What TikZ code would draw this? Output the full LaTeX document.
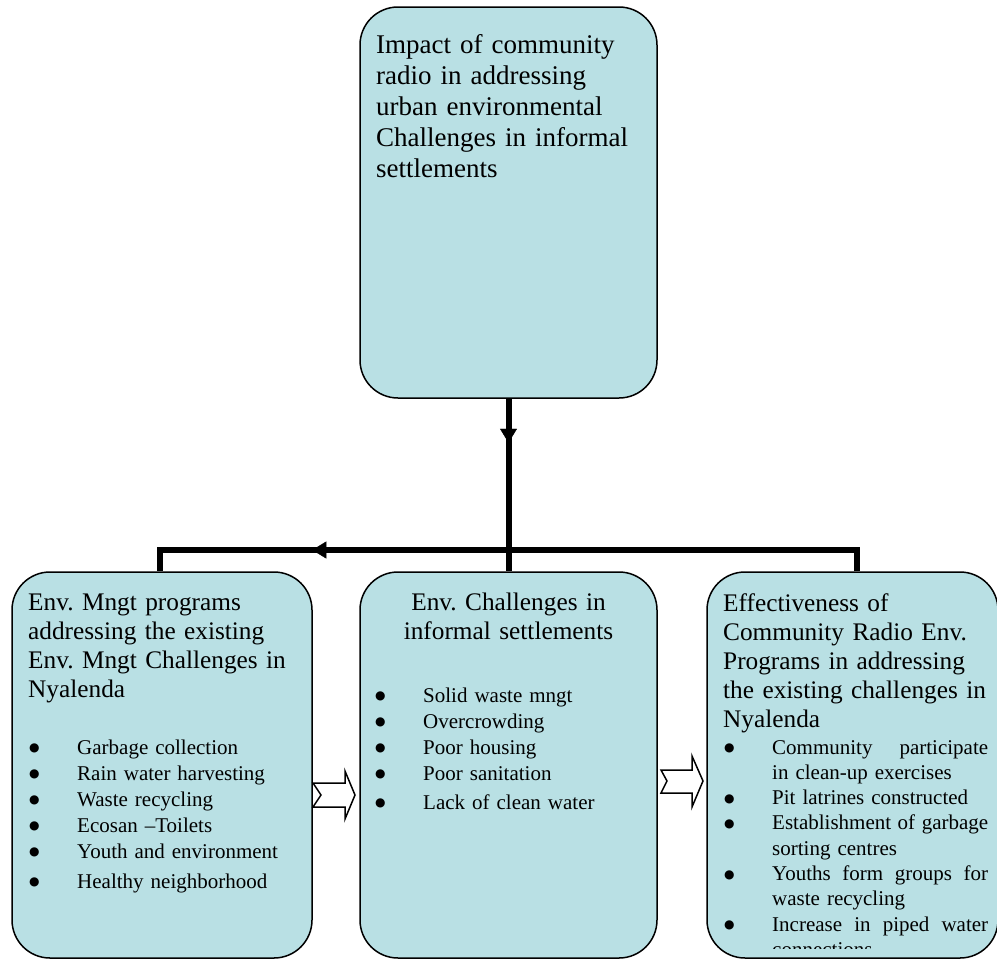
\documentclass[tikz,border=0pt]{standalone}
\usepackage{fontspec}
\setmainfont{Liberation Serif}
\newfontfamily\dejavu{DejaVu Sans}
\frenchspacing
\usetikzlibrary{arrows.meta,decorations.markings}
\definecolor{boxfill}{RGB}{185,224,228}
\newcommand\bdot{{\fontsize{12}{12}\dejavu\raisebox{2.5pt}{●}}}
\newcommand\bitem[1]{\makebox[48pt][l]{\bdot}#1}
\newcommand\jline[1]{\makebox[48pt][l]{\bdot}\hbox to 216pt{#1}}
\tikzset{
  box/.style={draw=black, line width=1.5pt, fill=boxfill, rounded corners=38pt, inner sep=0pt},
  conn/.style={draw=black, line width=6pt, line join=miter},
  blockarrow/.style={draw=black, line width=1.5pt, fill=white, line join=miter},
  head/.style={anchor=base west, inner sep=0pt, text width=#1, align=left, font=\fontsize{25.3}{29}\selectfont},
  bul/.style={anchor=base west, inner sep=0pt, text width=#1, align=left, font=\fontsize{21}{26}\selectfont},
  marktip/.style={postaction={decorate}, decoration={markings, mark=at position #1 with {\arrow{Triangle[width=17pt,length=14pt]}}}}
}
\begin{document}
\begin{tikzpicture}[x=1pt,y=-1pt]
\useasboundingbox (0,0) rectangle (997,962);
% boxes
\node[box, minimum width=297pt, minimum height=391pt] (top) at (508.5,202.5) {};
\node[box, minimum width=300pt, minimum height=386pt] (lft) at (162,765) {};
\node[box, minimum width=297pt, minimum height=386pt] (mid) at (508.5,765) {};
\node[box, minimum width=291pt, minimum height=386pt] (rgt) at (852.5,765) {};
% connectors
\coordinate (jl) at (160,550);
\coordinate (jr) at (857,550);
\draw[conn] (top.south) -- (mid.north);
\path[marktip=44pt] (top.south) -- (mid.north);
\draw[conn] (jr |- rgt.north) -- (jr) -- (jl) -- (jl |- lft.north);
\path[marktip=566pt] (jr |- rgt.north) -- (jr) -- (jl) -- (jl |- lft.north);
% block arrows
\draw[blockarrow] (313,783) -- (345,783) -- (345,771) -- (355,795) -- (345,819) -- (345,807) -- (313,807) -- (321,795) -- cycle;
\draw[blockarrow] (661,770) -- (692,770) -- (692,756) -- (703,781) -- (692,807) -- (692,793) -- (661,793) -- (667,781) -- cycle;
% texts
\node[anchor=base west, inner sep=0pt, text width=280pt, align=left, font=\fontsize{27}{31}\selectfont] (toptxt) at (376,53)
  {Impact of community\\radio in addressing\\urban environmental\\Challenges in informal\\settlements};
\node[head=285pt] (lfthead) at (28,610)
  {Env. Mngt programs\\addressing the existing\\Env. Mngt Challenges in\\Nyalenda};
\node[anchor=base, inner sep=0pt, text width=290pt, align=center, font=\fontsize{25.3}{29}\selectfont] (midhead) at (508.5,610)
  {Env. Challenges in\\informal settlements};
\node[head=272pt] (rgthead) at (723,611)
  {Effectiveness of\\Community Radio Env.\\Programs in addressing\\the existing challenges in\\Nyalenda};
\node[bul=280pt] (lftlist) at (29,754)
  {\bitem{Garbage collection}\\
   \bitem{Rain water harvesting}\\
   \bitem{Waste recycling}\\
   \bitem{Ecosan –Toilets}\\
   \bitem{Youth and environment}\\[4pt]
   \bitem{Healthy neighborhood}};
\node[bul=280pt] (midlist) at (375,702)
  {\bitem{Solid waste mngt}\\
   \bitem{Overcrowding}\\
   \bitem{Poor housing}\\
   \bitem{Poor sanitation}\\[3pt]
   \bitem{Lack of clean water}};
\begin{scope}
\clip (700,560) rectangle (997,948);
\node[anchor=base west, inner sep=0pt, text width=270pt, align=left, font=\fontsize{21}{25.3}\selectfont] (rgtlist) at (724,754)
  {\jline{Community\hfill participate}\\
   \hspace*{48pt}in clean-up exercises\\
   \bitem{Pit latrines constructed}\\
   \jline{Establishment\hfill of\hfill garbage}\\
   \hspace*{48pt}sorting centres\\
   \jline{Youths\hfill form\hfill groups\hfill for}\\
   \hspace*{48pt}waste recycling\\
   \jline{Increase\hfill in\hfill piped\hfill water}\\
   \hspace*{48pt}connections};
\end{scope}
\end{tikzpicture}
\end{document}
